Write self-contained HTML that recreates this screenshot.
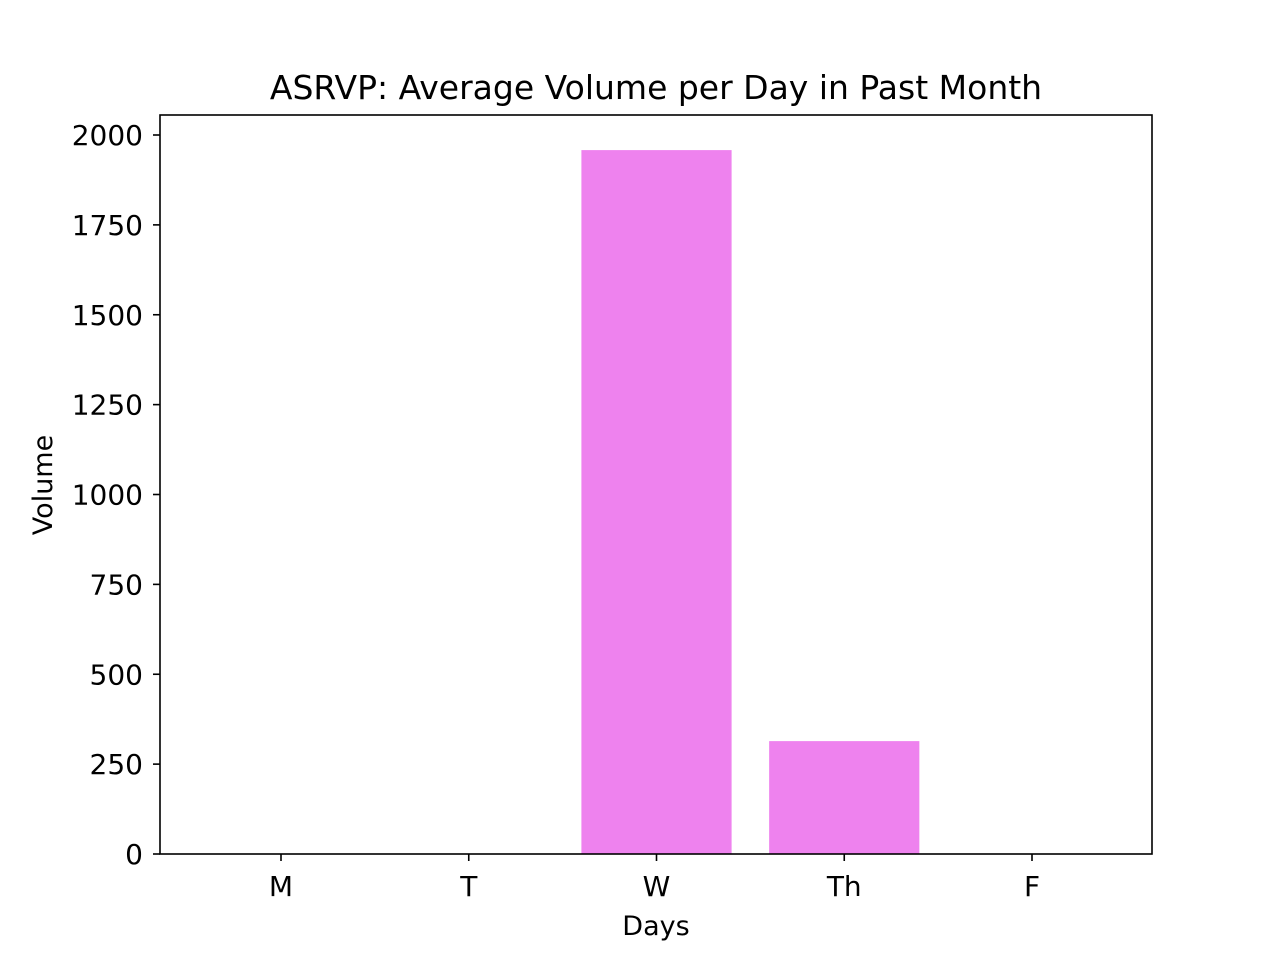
<!DOCTYPE html>
<html><head><meta charset="utf-8"><style>
body{margin:0;background:#fff;}
svg{display:block;font-family:"DejaVu Sans","Liberation Sans",sans-serif;}
</style></head><body>
<svg id="chart" width="1280" height="960">
<text x="656" y="99" font-size="33" text-anchor="middle">ASRVP: Average Volume per Day in Past Month</text>
<g id="bars"></g>
<g id="yticks"></g>
<g id="xticks"></g>
<rect x="160" y="115" width="992" height="739" fill="none" stroke="#000" stroke-width="1.6"/>
<text x="656" y="935" font-size="27" text-anchor="middle">Days</text>
<text transform="translate(52,485) rotate(-90)" font-size="27" text-anchor="middle">Volume</text>
</svg>
<script>
const categories = ["M","T","W","Th","F"];
const volumes = [0,0,1958,314,0];
const yTicks = [0,250,500,750,1000,1250,1500,1750,2000];
const NS="http://www.w3.org/2000/svg";
const x0=160,x1=1152,y0=854;
const yScale=v=>y0-v*(719/2000);
const step=187.75;
const xScale=i=>281+i*step;
const bw=0.8*step;
function mk(tag,attrs,parent){const e=document.createElementNS(NS,tag);for(const k in attrs)e.setAttribute(k,attrs[k]);parent.appendChild(e);return e;}
const bars=document.getElementById('bars'),yt=document.getElementById('yticks'),xt=document.getElementById('xticks');
categories.forEach((c,i)=>{
  const v=volumes[i];
  const r=mk('rect',{x:xScale(i)-bw/2,y:yScale(v),width:bw,height:y0-yScale(v),fill:'#ee82ee'},bars);
  
  
  const l=mk('line',{x1:xScale(i),x2:xScale(i),y1:y0,y2:y0+7,stroke:'#000','stroke-width':1.6},xt);
  
  
  const t=mk('text',{x:xScale(i),y:y0+42,'font-size':28,'text-anchor':'middle'},xt);
  t.textContent=c;
  
  
});
yTicks.forEach(v=>{
  const y=yScale(v);
  const l=mk('line',{x1:x0-7,x2:x0,y1:y,y2:y,stroke:'#000','stroke-width':1.6},yt);
  
  
  const t=mk('text',{x:x0-17,y:y+10,'font-size':28,'text-anchor':'end'},yt);
  t.textContent=v;
  
  
});
</script>
</body></html>
